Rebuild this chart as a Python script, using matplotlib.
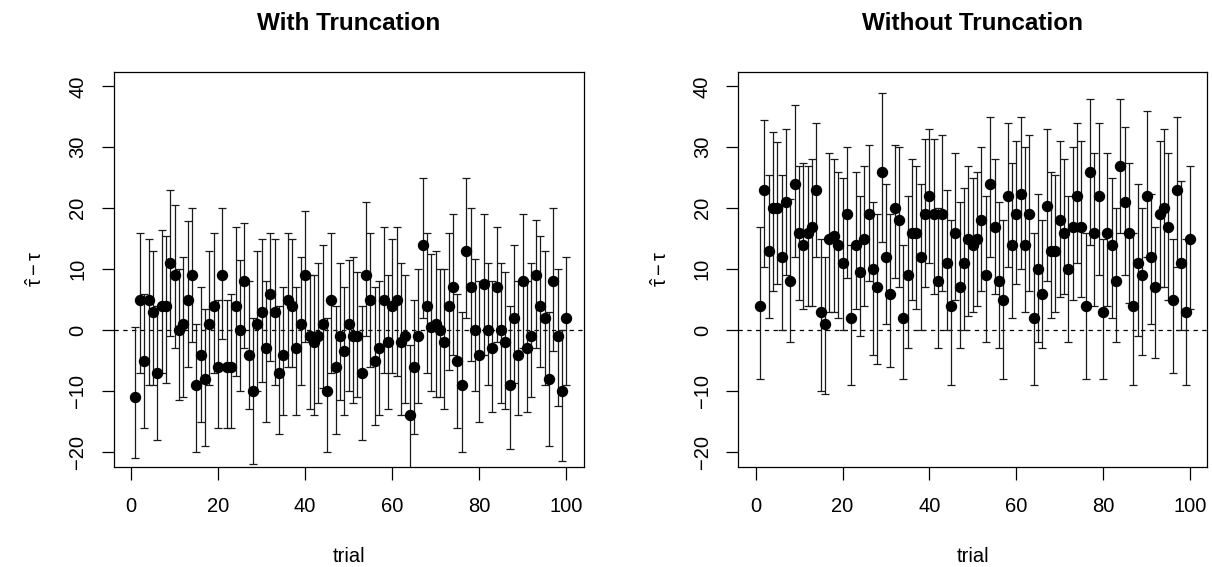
import matplotlib
matplotlib.use('Agg')
import matplotlib.pyplot as plt
import numpy as np

trial = list(range(1, 101))

# With Truncation: estimate, lower and upper interval ends
trunc_est = [-11, 5, -5, 5, 3, -7, 4, 4, 11, 9,
             0, 1, 5, 9, -9, -4, -8, 1, 4, -6,
             9, -6, -6, 4, 0, 8, -4, -10, 1, 3,
             -3, 6, 3, -7, -4, 5, 4, -3, 1, 9,
             -1, -2, -1, 1, -10, 5, -6, -1, -3.5, 1,
             -1, -1, -7, 9, 5, -5, -3, 5, -2, 4,
             5, -2, -1, -14, -6, -1, 14, 4, 0.5, 1,
             0, -2, 4, 7, -5, -9, 13, 7, 0, -4,
             7.5, 0, -3, 7, 0, -2, -9, 2, -4, 8,
             -3, -1, 9, 4, 2, -8, 8, -1, -10, 2]
trunc_lo = [-20.9, -7, -16, -9, -9, -18, -7, -8.6, -1, -3,
            -11.5, -11, -6, -2, -20, -15, -19, -9, -7, -16,
            -1.5, -16, -16, -7.5, -10, -3, -13, -22, -10, -8.5,
            -15, -5, -9, -17, -14, -6, -6, -14, -9, -2,
            -13, -14, -12, -9.5, -20, -7, -17, -11.5, -14, -10,
            -12, -11, -18, -1, -6, -15.5, -14, -7, -13, -7,
            -7.5, -14, -12, -26, -17, -12, 2, -7, -10, -11,
            -11, -13, -6.5, -4, -16, -20, 2, -5, -10, -15,
            -4, -9, -13.5, -2, -12, -13, -19.5, -8.6, -14, -3,
            -13.5, -11, -3, -6, -9, -19, -3.5, -12.5, -21.5, -9]
trunc_hi = [0.5, 16, 6, 15, 13, 4, 16.4, 15.5, 23, 20.5,
            10, 12, 17.9, 20, 1, 7, 3.5, 13, 16, 5,
            20, 5, 6, 17, 11.5, 17.5, 8, 2, 13, 15,
            8, 16, 15, 4, 7, 16, 15, 7, 12, 19.5,
            9, 9, 11, 14, 2, 16, 4, 11, 7, 11.5,
            12, 9.5, 4, 21, 16, 7, 8, 17, 9, 15,
            17, 11, 9, -2.5, 5, 10, 25, 16, 12.5, 13,
            10, 10, 16, 19, 6, 3, 25, 20, 11.6, 8,
            19, 11, 8, 17, 11, 9.5, 4, 14, 8, 19,
            8, 11, 18, 15.5, 13, 3, 20, 10, 0, 12]

# Without Truncation
full_est = [4, 23, 13, 20, 20, 12, 21, 8, 24, 16,
            14, 16, 17, 23, 3, 1, 15, 15.5, 14, 11,
            19, 2, 14, 9.5, 15, 19, 10, 7, 26, 12,
            6, 20, 18, 2, 9, 16, 16, 12, 19, 22,
            19, 8, 19, 11, 4, 16, 7, 11, 15, 14,
            15, 18, 9, 24, 17, 8, 5, 22, 14, 19,
            22.4, 14, 19, 2, 10, 6, 20.4, 13, 13, 18,
            16, 10, 17, 22, 17, 4, 26, 16, 22, 3,
            16, 14, 8, 27, 21, 16, 4, 11, 9, 22,
            12, 7, 19, 20, 17, 5, 23, 11, 3, 15]
full_lo = [-8, 10.4, 2, 6.4, 7.5, 0, 9, -2, 12, 5,
           3.4, 4, 4, 12, -10, -10.5, 3, 3, 2, 0,
           8.5, -9, 3.4, -1, 4, 8, -4, -5.6, 14.4, 1,
           -6, 8.5, 7, -8, -3, 5, 3.4, 0, 7, 11,
           6, -3, 6.4, 0, -9, 5, -3, 0, 2.4, 3,
           4, 6.4, -2, 12, 6, -3, -8, 10.4, 2, 7.5,
           10, 3, 6.4, -9, -2, -3, 8, 2, 3, 5.5,
           6, -2, 5, 11, 5.5, -8, 14, 4, 9, -8,
           4, 2, -2, 16, 9, 4.4, -9, -1, -4, 12,
           1, -4.5, 7, 7, 5, -7, 10.4, 0, -9, 3.4]
full_hi = [17, 34.4, 25.5, 32.5, 30.9, 25.5, 33, 21.5, 37, 27,
           27.4, 27, 28, 34, 15, 12, 29, 28, 26, 25,
           30, 14, 26, 22, 27, 30.4, 21, 19, 38.9, 24,
           19, 30.4, 30, 14, 22, 28, 27, 24, 31.4, 33,
           31.4, 20, 32, 23, 18, 29, 21, 23.4, 27, 25,
           26, 30, 22, 35, 28, 21, 18, 34, 27.4, 31,
           35, 30, 32, 16, 22.4, 18, 33, 26, 25.5, 31,
           28, 22, 30, 34, 31, 16, 38, 29, 34, 15,
           29, 25, 20, 38, 33.4, 27.4, 16, 24, 20, 36,
           22.4, 17, 31, 33, 29, 15, 35, 24.5, 15, 27]

titles = ["With Truncation", "Without Truncation"]
xticks = [0, 20, 40, 60, 80, 100]
yticks = [-20, -10, 0, 10, 20, 30, 40]

plt.rcParams['font.family'] = ['Liberation Sans', 'DejaVu Sans']
plt.rcParams['mathtext.fontset'] = 'custom'
plt.rcParams['mathtext.rm'] = 'Liberation Sans'
plt.rcParams['mathtext.it'] = 'Liberation Sans:italic'
plt.rcParams['mathtext.bf'] = 'Liberation Sans:bold'

W, H = 1212, 567
fig = plt.figure(figsize=(W / 100, H / 100), dpi=100)


def add_ax(l, r, t, b):
    return fig.add_axes([l / W, 1 - b / H, (r - l) / W, (b - t) / H])


boxes = [(113.7, 583.7, 71.7, 466.7), (738.3, 1207.3, 71.7, 466.7)]
datasets = [(trunc_est, trunc_lo, trunc_hi), (full_est, full_lo, full_hi)]

for (l, r, t, b), (est, lo, hi), title in zip(boxes, datasets, titles):
    ax = add_ax(l, r, t, b)
    est_a = np.array(est, dtype=float)
    lo_a = np.array(lo, dtype=float)
    hi_a = np.array(hi, dtype=float)
    ax.axhline(0, color='black', lw=0.9, ls=(0, (3.5, 3.5)), zorder=1)
    ax.errorbar(trial, est_a, yerr=[est_a - lo_a, hi_a - est_a], fmt='none',
                ecolor='#1a1a1a', elinewidth=0.9, capsize=2.9, capthick=0.9,
                zorder=2)
    ax.plot(trial, est_a, 'o', color='black', markersize=7.2, zorder=3)
    ax.set_xlim(-4, 104)
    ax.set_ylim(-22.4, 42.4)
    ax.set_xticks(xticks)
    ax.set_yticks(yticks)
    ax.tick_params(direction='out', length=9, width=0.9, labelsize=14.5,
                   color='black')
    ax.tick_params(axis='x', pad=12.5)
    ax.tick_params(axis='y', pad=10, labelrotation=90)
    for lab in ax.get_yticklabels():
        lab.set_va('center')
        lab.set_ha('right')
    for s in ax.spines.values():
        s.set_linewidth(0.9)
        s.set_color('black')
    ax.set_title(title, fontweight='bold', fontsize=17.5, pad=30)
    cx = (l + r) / 2
    fig.text(cx / W, (H - 562) / H, 'trial', ha='center', va='baseline',
             fontsize=14.5)
    fig.text((l - 78) / W, 1 - ((t + b) / 2) / H, r'$\hat{\mathrm{\tau}} - \mathrm{\tau}$',
             rotation=90, ha='center', va='center', fontsize=14.5)

fig.savefig('out.png', dpi=100)
